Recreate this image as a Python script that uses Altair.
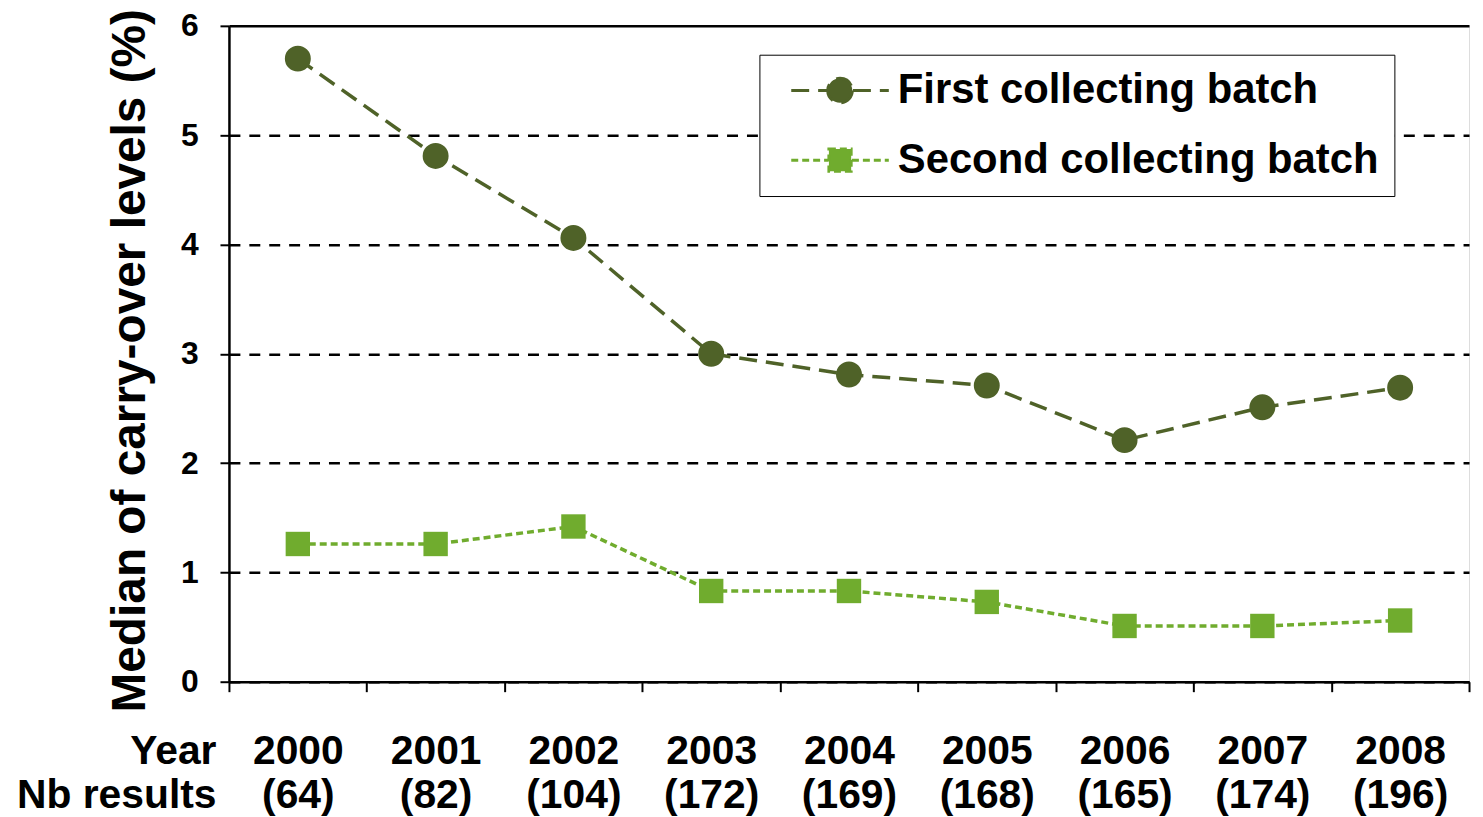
import altair as alt
import pandas as pd

years = ["2000", "2001", "2002", "2003", "2004", "2005", "2006", "2007", "2008"]
nb_results = ["(64)", "(82)", "(104)", "(172)", "(169)", "(168)", "(165)", "(174)", "(196)"]
first_batch = [5.70, 4.81, 4.06, 3.00, 2.81, 2.71, 2.21, 2.51, 2.69]
second_batch = [1.26, 1.26, 1.42, 0.83, 0.83, 0.73, 0.51, 0.51, 0.56]
series_names = ["First collecting batch", "Second collecting batch"]
colors = ["#4F6228", "#70AC2E"]
dashes = [[18, 9], [7, 4]]

cats = [f"{y}\n{n}" for y, n in zip(years, nb_results)]
rows = []
for c, v in zip(cats, first_batch):
    rows.append({"cat": c, "value": v, "series": series_names[0]})
for c, v in zip(cats, second_batch):
    rows.append({"cat": c, "value": v, "series": series_names[1]})
df = pd.DataFrame(rows)

FONT = "Liberation Sans"

circle_path = "M-3.77,0L-1,0M1,0L3.77,0M0.95,0A0.95,0.95,0,1,1,-0.95,0A0.95,0.95,0,1,1,0.95,0Z"
square_path = "M-3.77,0L-0.92,0M0.92,0L3.77,0M-0.86,-0.86L0.86,-0.86L0.86,0.86L-0.86,0.86Z"

x_enc = alt.X(
    "cat:N",
    sort=cats,
    scale=alt.Scale(paddingInner=0, paddingOuter=0),
    axis=alt.Axis(
        title=["Year", "Nb results"],
        titleFont=FONT, titleFontSize=41, titleFontWeight="bold", titleColor="black",
        titleAngle=0, titleAlign="right", titleBaseline="alphabetic",
        titleX=-13, titleY=82, titleLineHeight=44,
        labelExpr="split(datum.label, '\\n')",
        labelFont=FONT, labelFontSize=41, labelFontWeight="bold", labelColor="black",
        labelAngle=0, labelBaseline="alphabetic", labelLineHeight=44,
        labelPadding=72, tickSize=10, tickWidth=2, tickColor="black",
        tickBand="extent", domainColor="black", domainWidth=2.5, grid=False,
    ),
)

y_enc = alt.Y(
    "value:Q",
    scale=alt.Scale(domain=[0, 6], nice=False, zero=True),
    axis=alt.Axis(
        title="Median of carry-over  levels (%)",
        titleFont=FONT, titleFontSize=48, titleFontWeight="bold", titleColor="black",
        titlePadding=26, titleY=336,
        values=[0, 1, 2, 3, 4, 5, 6],
        labelFont=FONT, labelFontSize=32, labelFontWeight="bold", labelColor="black",
        labelPadding=22, tickSize=9, tickWidth=2, tickColor="black",
        domainColor="black", domainWidth=2.5,
        grid=True, gridColor="black", gridWidth=2.5,
        gridDash={"condition": {"test": "datum.value == 6", "value": []}, "value": [11, 9]},
    ),
)

legend = alt.Legend(
    title=None,
    orient="none",
    legendX=533, legendY=29,
    direction="vertical",
    strokeColor="black",
    fillColor="white",
    padding=15,
    labelFont=FONT, labelFontSize=42, labelFontWeight="bold", labelColor="black",
    symbolSize=676,
    symbolStrokeWidth=3,
    symbolOpacity=1,
    symbolOffset=45,
    labelOffset=37,
    rowPadding=28,
    labelLimit=700,
)

color_scale = alt.Scale(domain=series_names, range=colors)
dash_scale = alt.Scale(domain=series_names, range=dashes)

lines = alt.Chart(df).mark_line(strokeWidth=3.5).encode(
    x=x_enc,
    y=y_enc,
    color=alt.Color("series:N", scale=color_scale, legend=legend),
    strokeDash=alt.StrokeDash("series:N", scale=dash_scale, legend=legend),
)

points_first = alt.Chart(df).transform_filter(
    alt.datum.series == series_names[0]
).mark_point(filled=True, opacity=1, size=680, shape="circle").encode(
    x=x_enc,
    y=y_enc,
    color=alt.Color("series:N", scale=color_scale, legend=legend),
)

points_second = alt.Chart(df).transform_filter(
    alt.datum.series == series_names[1]
).mark_point(filled=True, opacity=1, size=600, shape="square").encode(
    x=x_enc,
    y=y_enc,
    color=alt.Color("series:N", scale=color_scale, legend=legend),
)

legend_layer = alt.Chart(df).transform_filter("false").mark_point(
    filled=True, opacity=1, strokeWidth=3
).encode(
    x=x_enc,
    y=y_enc,
    color=alt.Color("series:N", scale=color_scale, legend=legend),
    stroke=alt.Stroke("series:N", scale=color_scale, legend=legend),
    strokeDash=alt.StrokeDash("series:N", scale=dash_scale, legend=legend),
    shape=alt.Shape("series:N", scale=alt.Scale(domain=series_names, range=[circle_path, square_path]), legend=legend),
)

chart = alt.layer(lines, points_first, points_second, legend_layer).properties(
    width=1246, height=659,
    autosize=alt.AutoSizeParams(type="none"),
    padding={"left": 222, "top": 16, "right": 6, "bottom": 134},
).configure_view(stroke=None).configure(background="white")

chart.save("out.html", embed_options={"renderer": "svg", "actions": False})
